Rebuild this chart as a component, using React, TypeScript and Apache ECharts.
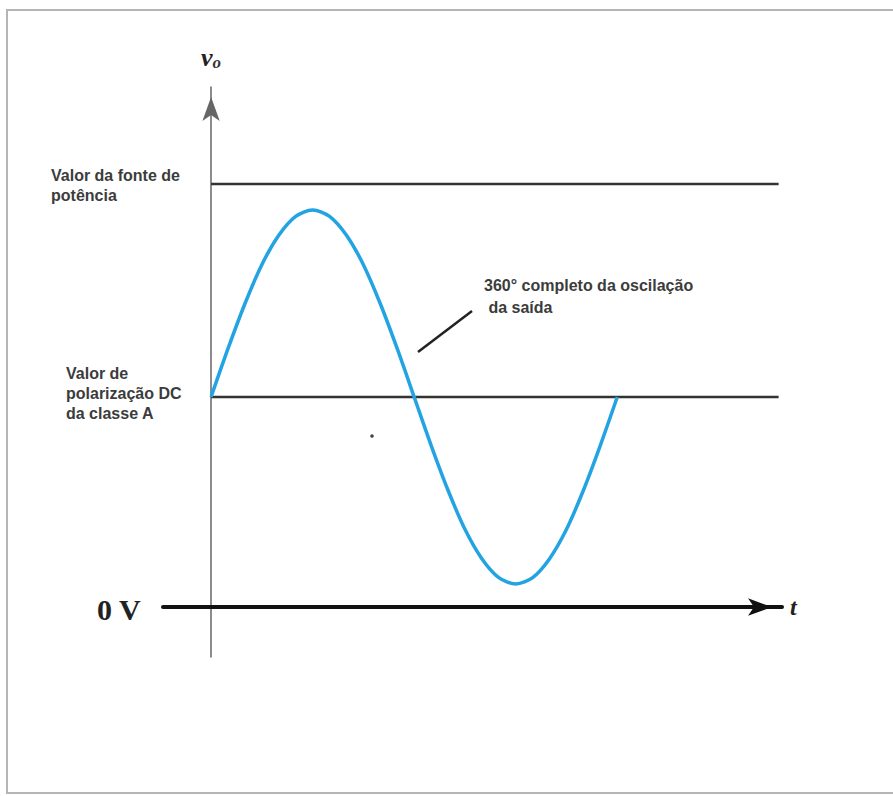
import React, { useEffect, useRef } from "react";
import * as echarts from "echarts";

// Phase of the output swing, in degrees
const phaseDeg = [
  0, 15, 30, 45, 60, 75, 90, 105, 120, 135, 150, 165, 180,
  195, 210, 225, 240, 255, 270, 285, 300, 315, 330, 345, 360,
];
// Output voltage vo over one full cycle (arbitrary volts)
const outputV = [
  5, 6.15, 7.22, 8.15, 8.85, 9.3, 9.45, 9.3, 8.85, 8.15, 7.22, 6.15, 5,
  3.85, 2.78, 1.85, 1.15, 0.7, 0.55, 0.7, 1.15, 1.85, 2.78, 3.85, 5,
];
// Supply voltage level and class-A DC bias level
const supplyV = 10.07;
const biasV = 5;
// Horizontal extent of the reference levels
const levelSpan = [0, 503];

const X_MIN = -42.6;
const X_MAX = 506;
const Y_MIN = -1.19;
const Y_MAX = 12.38;

export default function App() {
  const ref = useRef<HTMLDivElement>(null);

  useEffect(() => {
    if (!ref.current) return;
    const chart = echarts.init(ref.current, undefined, { renderer: "svg" });

    const labelStyle = {
      fill: "#3c3c3c",
      fontFamily: "Liberation Sans, Arial, sans-serif",
      fontSize: 16,
      fontWeight: "bold" as const,
      lineHeight: 20,
    };

    chart.setOption({
      animation: false,
      backgroundColor: "#ffffff",
      grid: { left: 163, right: 111, top: 87, bottom: 139, containLabel: false },
      xAxis: {
        type: "value",
        min: X_MIN,
        max: X_MAX,
        splitLine: { show: false },
        axisTick: { show: false },
        axisLabel: { show: false },
        axisLine: {
          show: true,
          onZero: true,
          symbol: ["none", "arrow"],
          symbolSize: [13, 24],
          symbolOffset: [0, -10],
          lineStyle: { color: "#111", width: 4 },
        },
        name: "t",
        nameLocation: "end",
        nameGap: 8,
        nameTextStyle: {
          color: "#222",
          fontFamily: "Liberation Serif, serif",
          fontStyle: "italic",
          fontWeight: "bold",
          fontSize: 24,
          verticalAlign: "middle",
        },
      },
      yAxis: {
        type: "value",
        min: Y_MIN,
        max: Y_MAX,
        splitLine: { show: false },
        axisTick: { show: false },
        axisLabel: { show: false },
        axisLine: {
          show: true,
          onZero: true,
          symbol: ["none", "arrow"],
          symbolSize: [13, 24],
          symbolOffset: [0, -10],
          lineStyle: { color: "#666", width: 1.5 },
        },
        name: "{v|v}{o|o}",
        nameLocation: "end",
        nameGap: 16,
        nameTextStyle: {
          rich: {
            v: {
              fontFamily: "Liberation Serif, serif",
              fontStyle: "italic",
              fontWeight: "bold",
              fontSize: 26,
              color: "#222",
            },
            o: {
              fontFamily: "Liberation Serif, serif",
              fontStyle: "italic",
              fontWeight: "bold",
              fontSize: 17,
              color: "#333",
              padding: [10, 0, 0, 0],
            },
          },
        },
      },
      series: [
        {
          name: "supply",
          type: "line",
          data: levelSpan.map((x) => [x, supplyV]),
          symbol: "none",
          silent: true,
          lineStyle: { color: "#333", width: 2.5 },
        },
        {
          name: "bias",
          type: "line",
          data: levelSpan.map((x) => [x, biasV]),
          symbol: "none",
          silent: true,
          lineStyle: { color: "#333", width: 2.5 },
        },
        {
          name: "vo",
          type: "line",
          data: phaseDeg.map((d, i) => [d, outputV[i]]),
          smooth: 0.3,
          symbol: "none",
          silent: true,
          lineStyle: { color: "#22a3e2", width: 3.5 },
          z: 5,
        },
      ],
      graphic: [
        // scanned page frame
        {
          type: "polyline",
          shape: { points: [[900, 10], [7, 10], [7, 793], [900, 793]] },
          style: { stroke: "#b5b5b5", lineWidth: 2, fill: "none" },
          silent: true,
        },
        {
          type: "text",
          left: 51,
          top: 165,
          style: { ...labelStyle, text: "Valor da fonte de\npotência" },
        },
        {
          type: "text",
          left: 66,
          top: 363,
          style: { ...labelStyle, text: "Valor de\npolarização DC\nda classe A" },
        },
        {
          type: "text",
          left: 484,
          top: 274,
          style: { ...labelStyle, lineHeight: 22, text: "360° completo da oscilação\n da saída" },
        },
        {
          type: "line",
          shape: { x1: 472, y1: 311, x2: 418, y2: 352 },
          style: { stroke: "#222", lineWidth: 2.5 },
        },
        {
          type: "circle",
          shape: { cx: 372, cy: 436, r: 1.8 },
          style: { fill: "#444" },
        },
        {
          type: "text",
          left: 97,
          top: 594,
          style: {
            text: "0 V",
            fill: "#222",
            fontFamily: "Liberation Serif, serif",
            fontWeight: "bold",
            fontSize: 30,
          },
        },
      ],
    });

    return () => chart.dispose();
  }, []);

  return (
    <div
      ref={ref}
      style={{ position: "absolute", left: 0, top: 0, width: 893, height: 796 }}
    />
  );
}
